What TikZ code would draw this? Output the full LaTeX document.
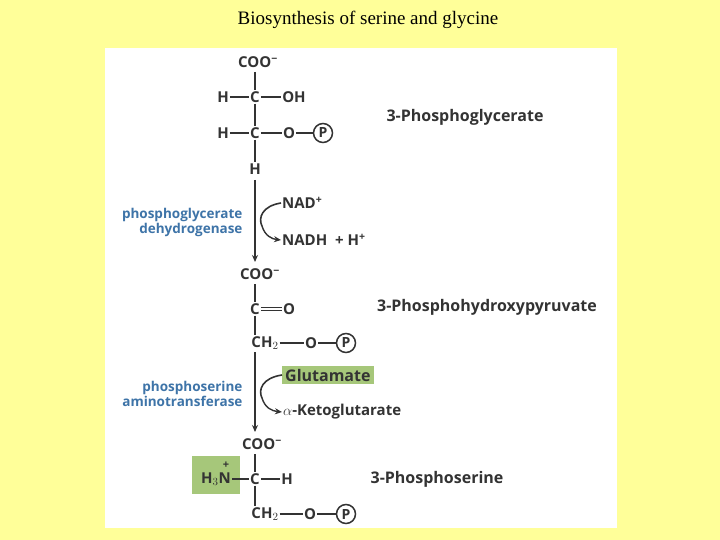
\documentclass[tikz,border=0pt]{standalone}
\usepackage{fontspec}
\setmainfont{Liberation Serif}
\newfontfamily\chem{Open Sans}[BoldFont={* Bold}]
\definecolor{bg}{HTML}{FFFF99}
\definecolor{ink}{HTML}{333333}
\definecolor{enz}{HTML}{3E74A8}
\definecolor{grn}{HTML}{A6C77A}
\usetikzlibrary{arrows.meta}
\newcommand{\mysup}[1]{\textsuperscript{#1}}
\tikzset{
 atm/.style={font=\chem\bfseries\fontsize{15}{15}\selectfont,text=ink,inner sep=1pt},
 nm/.style={font=\chem\bfseries\fontsize{16}{16}\selectfont,text=ink,inner sep=1pt},
 ez/.style={font=\chem\bfseries\fontsize{13.5}{15}\selectfont,text=enz,align=right,anchor=east},
 bd/.style={draw=ink,line width=1.6pt},
 ph/.style={circle,draw=ink,line width=1.5pt,inner sep=0pt,minimum size=19pt,font=\chem\bfseries\fontsize{14}{14}\selectfont,text=ink},
 ar/.style={draw=ink,line width=1.6pt,-{Stealth[length=7pt,width=6pt]}}
}
\begin{document}
\begin{tikzpicture}[x=1pt,y=-1pt]
\fill[bg] (0,0) rectangle (720,540);
\useasboundingbox (0,0) rectangle (720,540);
\fill[white] (105,48) rectangle (617,528);
\node (title) at (368,20) {\fontsize{19}{19}\selectfont Biosynthesis of serine and glycine};
% molecule 1
\node[atm] (a1) at (258,62) {COO\mysup{−}};
\node[atm] (c1) at (255,97) {C};
\node[atm] (h1) at (223,97) {H};
\node[atm] (oh1) at (294,97) {OH};
\node[atm] (c2) at (255,133) {C};
\node[atm] (h2) at (223,133) {H};
\node[atm] (o2) at (289,133) {O};
\node[ph] (p1) at (323,133) {P};
\node[atm] (h3) at (255,169) {H};
\draw[bd] (255,72)--(c1) (c1)--(c2) (c2)--(h3) (h1)--(c1) (c1)--(oh1) (h2)--(c2) (c2)--(o2) (o2)--(p1);
\node[nm] (n1) at (465,117) {3-Phosphoglycerate};
% step 1
\node[atm,anchor=west] (nad) at (281,203) {NAD\mysup{+}};
\node[atm,anchor=west] (nadh) at (281,240) {NADH \ + H\mysup{+}};
\node[ez] (e1) at (246,222) {phosphoglycerate\\dehydrogenase};
\draw[ar] (255,180)--(255,262);
\draw[bd] (nad.west) .. controls (262,206) and (258,218) .. (262,226);
\draw[ar,line width=1.4pt] (262,226) .. controls (265,236) and (272,239) .. (nadh.west);
% molecule 2
\node[atm] (a2) at (260,274) {COO\mysup{−}};
\node[atm] (c3) at (255,309) {C};
\node[atm] (o3) at (289,309) {O};
\node[atm] (c4) at (265,343) {CH$_2$};
\node[atm] (o4) at (311,343) {O};
\node[ph] (p2) at (346,343) {P};
\draw[bd] (255,284)--(c3) (c3)--(255,335) (c4)--(o4) (o4)--(p2);
\draw[draw=ink,line width=1.2pt,double=white,double distance=2pt] (c3)--(o3);
\node[nm] (n2) at (487,307) {3-Phosphohydroxypyruvate};
% step 2
\node[nm,fill=grn,anchor=west,inner sep=3pt] (glu) at (282,375) {Glutamate};
\node[atm,anchor=west] (akg) at (282,412) {$\alpha$-Ketoglutarate};
\node[ez] (e2) at (246,394) {phosphoserine\\aminotransferase};
\draw[ar] (255,352)--(255,432);
\draw[bd] (glu.west) .. controls (262,378) and (258,390) .. (262,398);
\draw[ar,line width=1.4pt] (262,398) .. controls (265,408) and (272,411) .. (akg.west);
% molecule 3
\node[atm] (a3) at (262,444) {COO\mysup{−}};
\fill[grn] (192,456) rectangle (240,494);
\node[atm] (n3) at (216,479) {H$_3$N};
\node[atm] (plus) at (226,465) {\fontsize{11}{11}\selectfont +};
\node[atm] (c5) at (255,479) {C};
\node[atm] (h5) at (287,479) {H};
\node[atm] (c6) at (265,514) {CH$_2$};
\node[atm] (o6) at (310,514) {O};
\node[ph] (p3) at (346,514) {P};
\draw[bd] (255,454)--(c5) (c5)--(255,506) (n3)--(c5) (c5)--(h5) (c6)--(o6) (o6)--(p3);
\node[nm] (n4) at (437,479) {3-Phosphoserine};
\end{tikzpicture}
\end{document}
